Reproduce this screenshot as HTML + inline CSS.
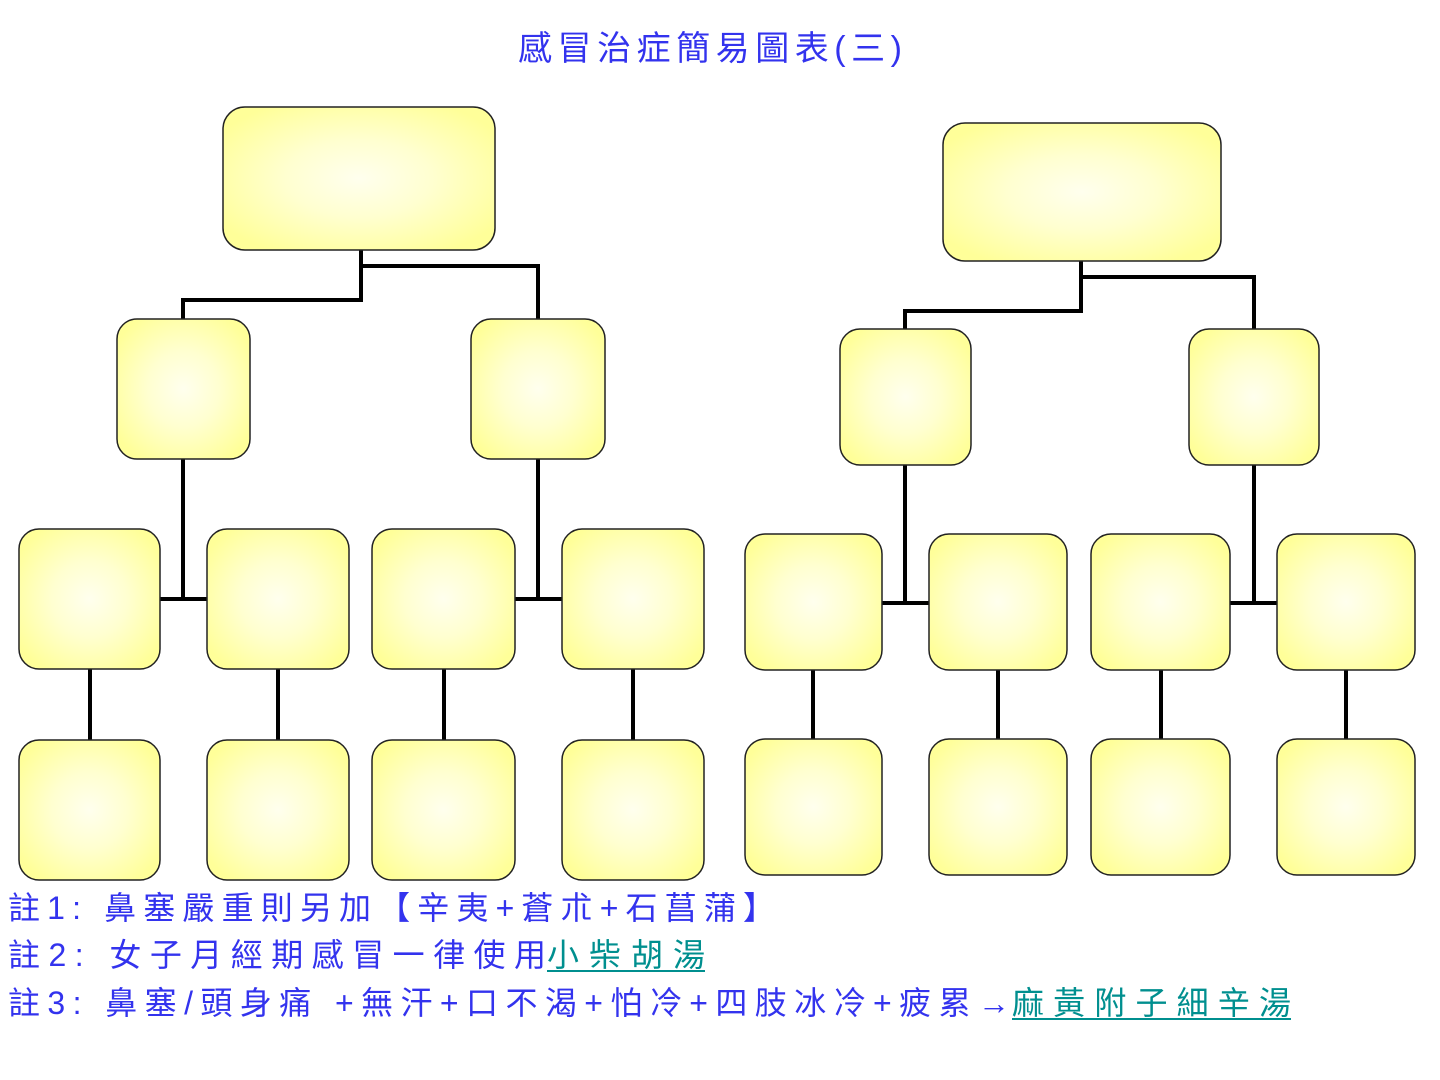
<!DOCTYPE html>
<html><head><meta charset="utf-8">
<style>
html,body{margin:0;padding:0;background:#fff;}
svg{display:block;}
text{font-family:"Liberation Sans","Noto Sans CJK TC","Noto Serif CJK SC",sans-serif;}
</style></head>
<body>
<svg width="1440" height="1080" viewBox="0 0 1440 1080" xmlns="http://www.w3.org/2000/svg">
<defs>
<radialGradient id="g" cx="50%" cy="50%" r="60%">
<stop offset="0" stop-color="#ffffee"/>
<stop offset="0.45" stop-color="#ffffd0"/>
<stop offset="1" stop-color="#ffff99"/>
</radialGradient>
</defs>
<text x="710" y="60" text-anchor="middle" font-size="34" fill="#3333ee" textLength="384" lengthAdjust="spacing">感冒治症簡易圖表(三)</text>
<g stroke="#000" stroke-width="4" fill="none">
<polyline points="361,250 361,300 183,300 183,319"/>
<polyline points="361,266 538,266 538,319"/>
<polyline points="183,459 183,599"/><line x1="160" y1="599" x2="207" y2="599"/>
<polyline points="538,459 538,599"/><line x1="515" y1="599" x2="562" y2="599"/>
<line x1="90" y1="669" x2="90" y2="740"/><line x1="278" y1="669" x2="278" y2="740"/>
<line x1="444" y1="669" x2="444" y2="740"/><line x1="633" y1="669" x2="633" y2="740"/>
<polyline points="1081,261 1081,311 905,311 905,329"/>
<polyline points="1081,277 1254,277 1254,329"/>
<polyline points="905,465 905,603"/><line x1="882" y1="603" x2="929" y2="603"/>
<polyline points="1254,465 1254,603"/><line x1="1230" y1="603" x2="1277" y2="603"/>
<line x1="813" y1="670" x2="813" y2="739"/><line x1="998" y1="670" x2="998" y2="739"/>
<line x1="1161" y1="670" x2="1161" y2="739"/><line x1="1346" y1="670" x2="1346" y2="739"/>
</g>
<g fill="url(#g)" stroke="#222" stroke-width="1.5">
<rect x="223" y="107" width="272" height="143" rx="22"/>
<rect x="117" y="319" width="133" height="140" rx="20"/>
<rect x="471" y="319" width="134" height="140" rx="20"/>
<rect x="19" y="529" width="141" height="140" rx="20"/>
<rect x="207" y="529" width="142" height="140" rx="20"/>
<rect x="372" y="529" width="143" height="140" rx="20"/>
<rect x="562" y="529" width="142" height="140" rx="20"/>
<rect x="19" y="740" width="141" height="140" rx="20"/>
<rect x="207" y="740" width="142" height="140" rx="20"/>
<rect x="372" y="740" width="143" height="140" rx="20"/>
<rect x="562" y="740" width="142" height="140" rx="20"/>
<rect x="943" y="123" width="278" height="138" rx="22"/>
<rect x="840" y="329" width="131" height="136" rx="20"/>
<rect x="1189" y="329" width="130" height="136" rx="20"/>
<rect x="745" y="534" width="137" height="136" rx="20"/>
<rect x="929" y="534" width="138" height="136" rx="20"/>
<rect x="1091" y="534" width="139" height="136" rx="20"/>
<rect x="1277" y="534" width="138" height="136" rx="20"/>
<rect x="745" y="739" width="137" height="136" rx="20"/>
<rect x="929" y="739" width="138" height="136" rx="20"/>
<rect x="1091" y="739" width="139" height="136" rx="20"/>
<rect x="1277" y="739" width="138" height="136" rx="20"/>
</g>
<g font-size="32" fill="#3333ee">
<text x="8" y="919" textLength="767" lengthAdjust="spacing">註1: 鼻塞嚴重則另加【辛夷+蒼朮+石菖蒲】</text>
<text x="8" y="966" textLength="538" lengthAdjust="spacing">註2: 女子月經期感冒一律使用</text>
<text x="547" y="966" fill="#008f8f" textLength="158" lengthAdjust="spacing">小柴胡湯</text>
<text x="8" y="1014" textLength="1002" lengthAdjust="spacing">註3: 鼻塞/頭身痛 +無汗+口不渴+怕冷+四肢冰冷+疲累→</text>
<text x="1012" y="1014" fill="#008f8f" textLength="279" lengthAdjust="spacing">麻黃附子細辛湯</text>
</g>
<rect x="547" y="970" width="158" height="2" fill="#008f8f"/>
<rect x="1012" y="1018" width="279" height="2" fill="#008f8f"/>
</svg>
</body></html>
